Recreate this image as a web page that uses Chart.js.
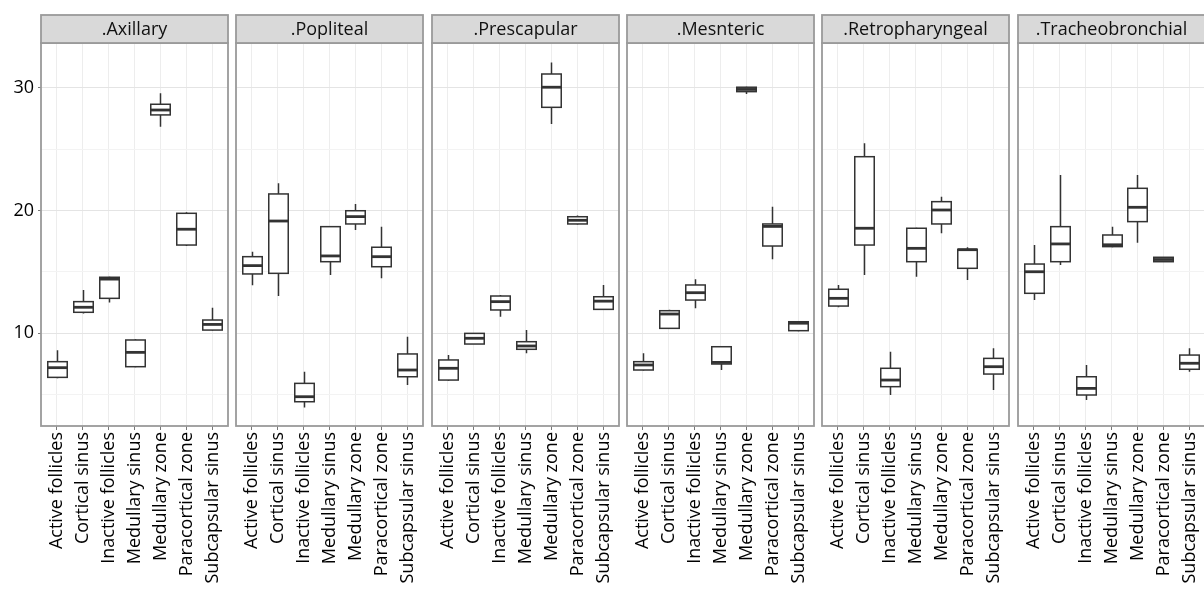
<!DOCTYPE html>
<html>
<head>
<meta charset="utf-8">
<script src="https://cdn.jsdelivr.net/npm/chart.js@4.4.0/dist/chart.umd.min.js"></script>
<style>
  html, body { margin: 0; padding: 0; background: #fff; }
  #wrap { position: relative; width: 1204px; height: 590px; overflow: hidden; }
  #wrap canvas { position: absolute; top: 0; }
</style>
</head>
<body>
<div id="wrap"></div>
<script>
var categories = ['Active follicles', 'Cortical sinus', 'Inactive follicles', 'Medullary sinus',
                  'Medullary zone', 'Paracortical zone', 'Subcapsular sinus'];
var panelNames = ['.Axillary', '.Popliteal', '.Prescapular', '.Mesnteric', '.Retropharyngeal', '.Tracheobronchial'];

// each row: [lower whisker, q1, median, q3, upper whisker]
var axillary = [
  [6.3, 6.38, 7.17, 7.66, 8.6],
  [11.6, 11.69, 12.1, 12.56, 13.5],
  [12.5, 12.83, 14.4, 14.55, 14.6],
  [7.2, 7.25, 8.42, 9.43, 9.5],
  [26.84, 27.8, 28.2, 28.67, 29.57],
  [17.1, 17.18, 18.47, 19.77, 19.85],
  [10.2, 10.24, 10.7, 11.06, 12.07]
];
var popliteal = [
  [13.9, 14.82, 15.5, 16.23, 16.64],
  [13.02, 14.87, 19.14, 21.35, 22.22],
  [3.93, 4.39, 4.8, 5.89, 6.84],
  [14.73, 15.82, 16.29, 18.68, 18.7],
  [18.4, 18.9, 19.5, 19.98, 20.53],
  [14.47, 15.41, 16.23, 17.0, 18.68],
  [5.76, 6.43, 6.98, 8.29, 9.7]
];
var prescapular = [
  [6.1, 6.16, 7.12, 7.8, 8.2],
  [9.1, 9.1, 9.57, 9.97, 10.0],
  [11.33, 11.88, 12.56, 13.02, 13.1],
  [8.34, 8.67, 8.94, 9.29, 10.24],
  [27.06, 28.42, 30.06, 31.14, 32.07],
  [18.85, 18.9, 19.2, 19.49, 19.6],
  [11.9, 11.93, 12.6, 12.96, 13.92]
];
var mesnteric = [
  [6.95, 6.98, 7.39, 7.66, 8.34],
  [10.35, 10.38, 11.55, 11.82, 11.9],
  [12.02, 12.69, 13.29, 13.92, 14.38],
  [6.98, 7.47, 7.6, 8.88, 8.9],
  [29.5, 29.7, 29.88, 30.06, 30.1],
  [16.02, 17.1, 18.7, 18.9, 20.31],
  [10.15, 10.19, 10.8, 10.92, 10.95]
];
var retropharyngeal = [
  [12.1, 12.2, 12.83, 13.57, 13.92],
  [14.73, 17.18, 18.55, 24.39, 25.49],
  [4.94, 5.62, 6.16, 7.12, 8.47],
  [14.6, 15.82, 16.91, 18.55, 18.6],
  [18.15, 18.9, 20.04, 20.72, 21.13],
  [14.33, 15.28, 16.8, 16.83, 17.0],
  [5.35, 6.65, 7.25, 7.93, 8.75]
];
var tracheobronchial = [
  [12.69, 13.24, 15.0, 15.63, 17.18],
  [15.55, 15.82, 17.27, 18.68, 22.9],
  [4.53, 4.94, 5.48, 6.43, 7.39],
  [17.0, 17.05, 17.2, 18.0, 18.68],
  [17.37, 19.09, 20.26, 21.81, 22.9],
  [15.8, 15.82, 16.0, 16.18, 16.2],
  [6.84, 7.04, 7.53, 8.2, 8.75]
];
var panelData = [axillary, popliteal, prescapular, mesnteric, retropharyngeal, tracheobronchial];
var yTicks = [5, 10, 15, 20, 25, 30];

var FONT = '"Open Sans", sans-serif';

// draws the boxes, the panel frame and the grey strip
function boxPlugin(stats, title) {
  return {
    id: 'boxes',
    afterDatasetsDraw: function(chart) {
      var ctx = chart.ctx, xs = chart.scales.x, ys = chart.scales.y;
      var half = xs.getPixelForValue(0.375) - xs.getPixelForValue(0);
      ctx.save();
      ctx.strokeStyle = '#333';
      stats.forEach(function(s, i) {
        var cx = Math.round(xs.getPixelForValue(i)) + 0.5;
        var lo = ys.getPixelForValue(s[0]), q1 = ys.getPixelForValue(s[1]);
        var md = ys.getPixelForValue(s[2]), q3 = ys.getPixelForValue(s[3]);
        var hi = ys.getPixelForValue(s[4]);
        ctx.lineWidth = 1.5;
        ctx.beginPath();
        ctx.moveTo(cx, hi); ctx.lineTo(cx, q3);
        ctx.moveTo(cx, q1); ctx.lineTo(cx, lo);
        ctx.stroke();
        ctx.fillStyle = '#fff';
        ctx.fillRect(cx - half, q3, half * 2, q1 - q3);
        ctx.strokeRect(cx - half, q3, half * 2, q1 - q3);
        ctx.lineWidth = 2.8;
        ctx.beginPath();
        ctx.moveTo(cx - half, md); ctx.lineTo(cx + half, md);
        ctx.stroke();
      });
      ctx.restore();
    },
    afterDraw: function(chart) {
      var ctx = chart.ctx, a = chart.chartArea;
      ctx.save();
      ctx.strokeStyle = '#9a9a9a';
      ctx.lineWidth = 1.8;
      ctx.strokeRect(a.left, a.top, a.right - a.left, a.bottom - a.top);
      ctx.fillStyle = '#d9d9d9';
      ctx.fillRect(a.left, 15, a.right - a.left, a.top - 15);
      ctx.strokeRect(a.left, 15, a.right - a.left, a.top - 15);
      ctx.fillStyle = '#111';
      ctx.font = '18px ' + FONT;
      ctx.textAlign = 'center';
      ctx.textBaseline = 'middle';
      ctx.fillText(title, (a.left + a.right) / 2, (15 + a.top) / 2 + 1);
      ctx.restore();
    }
  };
}

var wrap = document.getElementById('wrap');
panelData.forEach(function(stats, p) {
  var first = p === 0;
  var plotLeft = Math.round(41 + p * 195.3);
  var canvas = document.createElement('canvas');
  var left = first ? 0 : plotLeft - 4;
  var width = first ? 41 + 187 + 4 : 187 + 8;
  canvas.width = width;
  canvas.height = 590;
  canvas.style.left = left + 'px';
  canvas.style.width = width + 'px';
  canvas.style.height = '590px';
  wrap.appendChild(canvas);

  new Chart(canvas, {
    type: 'scatter',
    data: {
      datasets: [{
        data: stats.map(function(s, i) { return { x: i, y: s[2] }; }),
        pointRadius: 0,
        showLine: false
      }]
    },
    options: {
      responsive: false,
      animation: false,
      devicePixelRatio: 1,
      layout: { padding: { left: first ? 0 : 4, right: 4, top: 43, bottom: 0 } },
      plugins: { legend: { display: false }, tooltip: { enabled: false } },
      scales: {
        x: {
          type: 'linear',
          min: -0.6,
          max: 6.6,
          afterBuildTicks: function(scale) {
            scale.ticks = categories.map(function(c, i) { return { value: i }; });
          },
          afterFit: function(scale) {
            scale.height = 164;
            scale.paddingLeft = 0;
            scale.paddingRight = 0;
          },
          ticks: {
            autoSkip: false,
            maxRotation: 90,
            minRotation: 90,
            padding: 2,
            color: '#000',
            font: { family: FONT, size: 18 },
            callback: function(v, i) { return categories[i]; }
          },
          grid: { color: '#ededed', tickColor: '#777', tickLength: 4 },
          border: { display: false }
        },
        y: {
          min: 2.41,
          max: 33.67,
          afterBuildTicks: function(scale) {
            scale.ticks = yTicks.map(function(v) { return { value: v }; });
          },
          afterFit: function(scale) {
            scale.width = first ? 41 : 0;
            scale.paddingTop = 0;
            scale.paddingBottom = 0;
          },
          ticks: {
            display: first,
            padding: 4,
            color: '#000',
            font: { family: FONT, size: 18 },
            callback: function(v) { return v % 10 === 0 ? v : ''; }
          },
          grid: {
            drawTicks: first,
            tickLength: 3,
            color: function(c) { return c.tick && c.tick.value % 10 === 0 ? '#e4e4e4' : '#f3f3f3'; },
            tickColor: function(c) { return c.tick && c.tick.value % 10 === 0 ? '#777' : 'rgba(0,0,0,0)'; }
          },
          border: { display: false }
        }
      }
    },
    plugins: [boxPlugin(stats, panelNames[p])]
  });
});
</script>
</body>
</html>
